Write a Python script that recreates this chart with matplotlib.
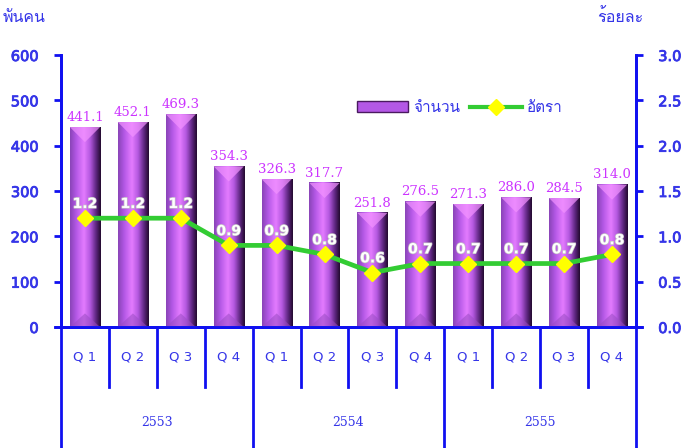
import numpy as np
import matplotlib
matplotlib.use('Agg')
import matplotlib.pyplot as plt
import matplotlib.patheffects as pe
from matplotlib.patches import Patch, Polygon
from matplotlib.lines import Line2D
from matplotlib.colors import LinearSegmentedColormap
from matplotlib import font_manager

# --- data ---
quarters = ['Q 1', 'Q 2', 'Q 3', 'Q 4'] * 3
years = ['2553', '2554', '2555']
amount = [441.1, 452.1, 469.3, 354.3, 326.3, 317.7, 251.8, 276.5, 271.3, 286.0, 284.5, 314.0]
rate = [1.2, 1.2, 1.2, 0.9, 0.9, 0.8, 0.6, 0.7, 0.7, 0.7, 0.7, 0.8]

BLUE = '#1010f0'
TXT = '#3535e8'
thai_fonts = [f.name for f in font_manager.fontManager.ttflist if 'Thai' in f.name or f.name in ('Loma', 'Garuda', 'Norasi', 'Waree', 'Tahoma')]
THAI = thai_fonts[:1] + ['DejaVu Sans']

fig = plt.figure(figsize=(6.82, 4.48), dpi=100)
ax = fig.add_axes([61 / 682, 121 / 448, 575 / 682, 272 / 448])
ax2 = ax.twinx()

n = len(amount)
x = np.arange(n)
w = 0.63

# bars with cylinder-like gradient
cmap = LinearSegmentedColormap.from_list('bar', [
    (0.0, '#8a44b8'), (0.2, '#b458e6'), (0.45, '#e47cff'),
    (0.65, '#b458e0'), (0.85, '#5e2680'), (1.0, '#240a30')])
grad = np.linspace(0, 1, 64).reshape(1, -1)
px_x = 575 / n
px_y = 272 / 600
bev = (w * px_x / 2) / px_y
for xi, v in zip(x, amount):
    ax.imshow(grad, cmap=cmap, extent=[xi - w / 2, xi + w / 2, 0, v],
              aspect='auto', zorder=2, interpolation='bicubic')
    ax.add_patch(Polygon([[xi - w / 2, v], [xi + w / 2, v], [xi, v - bev]],
                         closed=True, facecolor='#f292ff', edgecolor='none', alpha=0.7, zorder=3))
    ax.add_patch(Polygon([[xi - w / 2, 0], [xi + w / 2, 0], [xi, bev * 0.9]],
                         closed=True, facecolor='#9a4cc4', edgecolor='none', alpha=0.55, zorder=3))
    ax.text(xi, v + 7, f'{v:.1f}', ha='center', va='bottom', color='#cc33ff',
            fontsize=9.5, family='DejaVu Serif', zorder=5)
ax.set_xlim(-0.5, n - 0.5)
ax.set_ylim(0, 600)
ax2.set_ylim(0, 3.0)

# rate line
ax2.plot(x, rate, color='#33cc33', lw=3.4, zorder=4)
ax2.plot(x, rate, ls='none', marker='D', ms=8, mfc='#ffff00', mec='#ffff00', zorder=5)
for xi, r in zip(x, rate):
    ax2.text(xi, r + 0.08, f'{r:.1f}', ha='center', va='bottom', color='white',
             fontsize=10, fontweight='bold', zorder=6,
             path_effects=[pe.withStroke(linewidth=1.0, foreground='#c4c4c4')])

# axes styling
for a in (ax, ax2):
    a.spines['top'].set_visible(False)
    for s in ('left', 'right', 'bottom'):
        a.spines[s].set_color(BLUE)
        a.spines[s].set_linewidth(2)
ax.set_xticks([])
ax.set_yticks(np.arange(0, 601, 100))
ax.tick_params(axis='y', colors=BLUE, length=5, width=2, labelcolor=TXT, labelsize=10.5, pad=11)
ax2.set_yticks(np.arange(0, 3.01, 0.5))
ax2.set_yticklabels([f'{t:.1f}' for t in np.arange(0, 3.01, 0.5)])
ax2.tick_params(axis='y', colors=BLUE, length=5, width=2, labelcolor=TXT, labelsize=10.5, pad=11)
for lab in ax.get_yticklabels() + ax2.get_yticklabels():
    lab.set_path_effects([pe.withStroke(linewidth=0.6, foreground=TXT)])

# category table below the axis
tr = ax.get_xaxis_transform()
q_bot = -60 / 272
y_bot = -121 / 272
for b in np.arange(-0.5, n, 1.0):
    full = (b + 0.5) % 4 == 0
    ax.plot([b, b], [0, y_bot if full else q_bot], transform=tr, color=BLUE,
            lw=2, clip_on=False, zorder=1)
ax.plot([-0.62, n - 0.38], [0, 0], transform=tr, color=BLUE, lw=2, clip_on=False)
for xi, q in zip(x, quarters):
    ax.text(xi, -30 / 272, q, transform=tr, ha='center', va='center',
            color=TXT, fontsize=9.5)
for i, yr in enumerate(years):
    ax.text(4 * i + 1.5, -95 / 272, yr, transform=tr, ha='center', va='center',
            color=TXT, fontsize=9, family='DejaVu Serif')

# axis titles
fig.text(24 / 682, 1 - 18 / 448, 'พันคน', ha='center', va='center', color=TXT,
         fontsize=11.5, family=THAI)
fig.text(620 / 682, 1 - 18 / 448, 'ร้อยละ', ha='center', va='center', color=TXT,
         fontsize=11.5, family=THAI)

# legend
handles = [Patch(facecolor='#b458e6', edgecolor='#4a1a60', lw=1),
           Line2D([], [], color='#33cc33', lw=3, marker='D', ms=8,
                  mfc='#ffff00', mec='#ffff00')]
leg = ax2.legend(handles, ['จำนวน', 'อัตรา'], ncol=2, frameon=False,
                 loc='center left', bbox_to_anchor=(0.49, 0.805),
                 handlelength=3.4, handletextpad=0.3, columnspacing=0.65,
                 prop={'family': THAI, 'size': 11})
for t in leg.get_texts():
    t.set_color(TXT)

fig.savefig('out.png', dpi=100)
